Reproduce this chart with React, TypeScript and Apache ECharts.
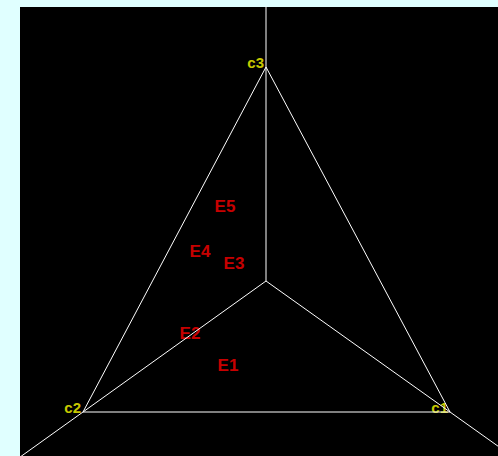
import React, { useEffect, useRef } from "react";
import * as echarts from "echarts";

// Plot coordinates: origin at the centre point where the three axes meet.
const vertexNames = ["c1", "c2", "c3"];
const vertexX = [184, -183, 0];
const vertexY = [-131, -131, 214];

const centerX = 0;
const centerY = 0;

const sampleNames = ["E1", "E2", "E3", "E4", "E5"];
const sampleX = [-38, -76, -32, -66, -41];
const sampleY = [-84, -52, 18, 30, 75];

const xRange = [-246, 232];
const yRange = [-175, 274];

export default function App() {
  const ref = useRef<HTMLDivElement>(null);

  useEffect(() => {
    if (!ref.current) return;
    const chart = echarts.init(ref.current, null, { renderer: "svg" });

    const lineStyle = { color: "#ffffff", width: 1 };

    // triangle outline c1 -> c2 -> c3 -> c1
    const tri = [0, 1, 2, 0].map((i) => [vertexX[i], vertexY[i]]);

    // rays from the centre through each vertex, running past the frame (clipped)
    const reach = 1.6;
    const rays = vertexX.map((vx, i) => ({
      type: "line",
      data: [
        [centerX, centerY],
        [centerX + (vx - centerX) * reach, centerY + (vertexY[i] - centerY) * reach],
      ],
      symbol: "none",
      clip: true,
      lineStyle,
      silent: true,
    }));

    const option: any = {
      animation: false,
      backgroundColor: "#e0ffff",
      grid: {
        left: 20,
        top: 7,
        right: 0,
        bottom: 0,
        show: true,
        backgroundColor: "#000000",
        borderWidth: 0,
      },
      xAxis: {
        type: "value",
        min: xRange[0],
        max: xRange[1],
        show: false,
        splitLine: { show: false },
      },
      yAxis: {
        type: "value",
        min: yRange[0],
        max: yRange[1],
        show: false,
        splitLine: { show: false },
      },
      series: [
        {
          type: "line",
          data: tri,
          symbol: "none",
          clip: true,
          lineStyle,
          silent: true,
        },
        ...rays,
        {
          type: "scatter",
          symbolSize: 0,
          silent: true,
          data: vertexNames.map((n, i) => ({ name: n, value: [vertexX[i], vertexY[i]] })),
          label: {
            show: true,
            position: [0, 0],
            align: "right",
            verticalAlign: "bottom",
            offset: [-2, 3],
            formatter: "{b}",
            color: "#ffff00",
            fontSize: 15,
            fontWeight: "bold",
            fontFamily: "Liberation Sans, Arial, sans-serif",
          },
        },
        {
          type: "scatter",
          symbolSize: 0,
          silent: true,
          data: sampleNames.map((n, i) => ({ name: n, value: [sampleX[i], sampleY[i]] })),
          label: {
            show: true,
            position: [0, 0],
            align: "center",
            verticalAlign: "middle",
            formatter: "{b}",
            color: "#ff0000",
            fontSize: 17,
            fontWeight: "bold",
            fontFamily: "Liberation Sans, Arial, sans-serif",
          },
        },
      ],
    };

    chart.setOption(option);
    return () => chart.dispose();
  }, []);

  return (
    <div
      ref={ref}
      style={{ position: "fixed", left: 0, top: 0, width: 498, height: 456 }}
    />
  );
}
